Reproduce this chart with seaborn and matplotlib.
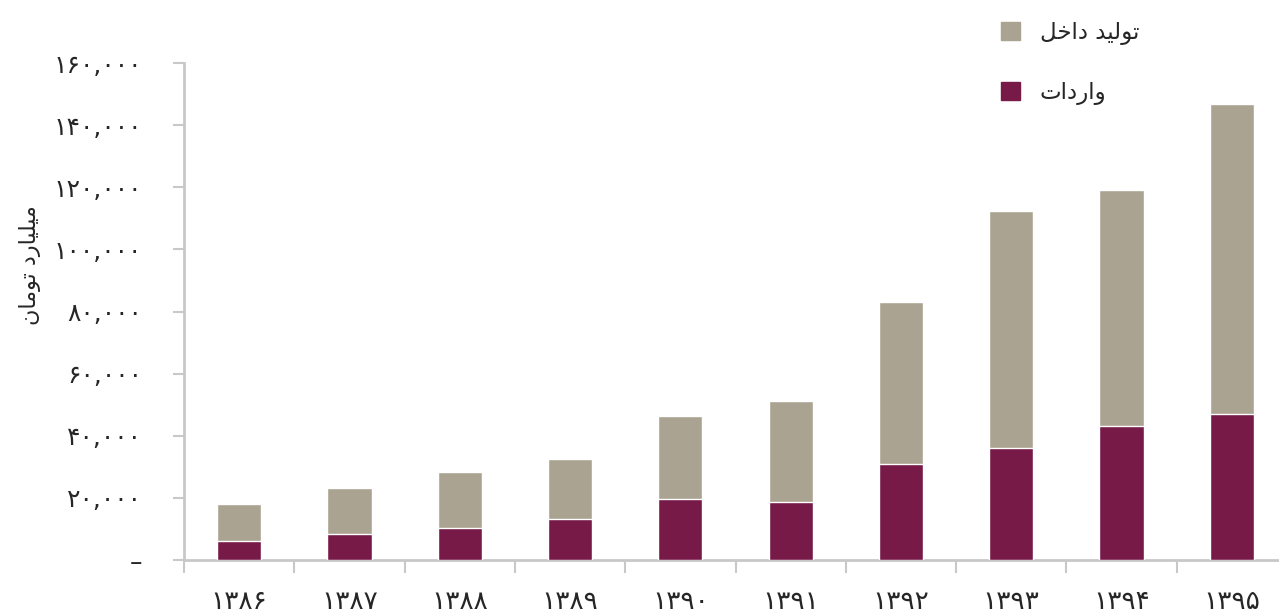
import matplotlib
matplotlib.use("Agg")
import matplotlib.pyplot as plt
import matplotlib.patches as mpatches
import seaborn as sns
import pandas as pd
import numpy as np

years = ["۱۳۸۶", "۱۳۸۷", "۱۳۸۸", "۱۳۸۹", "۱۳۹۰", "۱۳۹۱", "۱۳۹۲", "۱۳۹۳", "۱۳۹۴", "۱۳۹۵"]
imports = [6100, 8400, 10300, 13200, 19600, 18700, 30900, 36100, 43200, 47000]
domestic = [11900, 14800, 18000, 19300, 26800, 32500, 52200, 76300, 76000, 99900]
ytick_values = [0, 20000, 40000, 60000, 80000, 100000, 120000, 140000, 160000]
ytick_labels = ["–", "۲۰,۰۰۰", "۴۰,۰۰۰", "۶۰,۰۰۰", "۸۰,۰۰۰", "۱۰۰,۰۰۰",
                "۱۲۰,۰۰۰", "۱۴۰,۰۰۰", "۱۶۰,۰۰۰"]
# Persian labels (visual order, presentation forms)
lab_domestic = "ﻞﺧﺍﺩ ﺪﻴﻟﻮﺗ"   # تولید داخل
lab_imports = "ﺕﺍﺩﺭﺍﻭ"        # واردات
lab_y = "ﻥﺎﻣﻮﺗ ﺩﺭﺎﻴﻠﻴﻣ"      # میلیارد تومان

C_DOM = "#aba391"
C_IMP = "#771a48"
GRAY = "#c8c8c8"

sns.set_style("white")
plt.rcParams["font.family"] = ["DejaVu Sans"]

df = pd.DataFrame({"year": years,
                   "total": np.array(imports) + np.array(domestic),
                   "imports": imports})

fig = plt.figure(figsize=(12.79, 6.16), dpi=100)
ax = fig.add_axes([184 / 1279, 1 - 560 / 616, (1287 - 184) / 1279, (560 - 63) / 616])

sns.barplot(data=df, x="year", y="total", order=years, color=C_DOM,
            width=0.4, saturation=1, ax=ax, zorder=2)
sns.barplot(data=df, x="year", y="imports", order=years, color=C_IMP,
            width=0.4, saturation=1, ax=ax, zorder=3)

ax.set_xlim(-0.5, 9.5)
ax.set_ylim(0, 160000)
ax.set_xlabel("")
ax.set_ylabel("")

ax.set_yticks(ytick_values)
ax.set_yticklabels(ytick_labels, fontsize=18)
ax.tick_params(axis="y", length=8, width=1.5, color=GRAY, pad=22, left=True)

ax.set_xticks(range(len(years)))
ax.set_xticklabels(years, fontsize=19)
ax.set_xticks(np.arange(-0.5, 10, 1), minor=True)
ax.tick_params(axis="x", which="major", length=0, pad=21)
ax.tick_params(axis="x", which="minor", length=9, width=1.5, color=GRAY, bottom=True)

for s in ["top", "right"]:
    ax.spines[s].set_visible(False)
for s in ["left", "bottom"]:
    ax.spines[s].set_color(GRAY)
    ax.spines[s].set_linewidth(2)
ax.grid(False)

fig.text(30 / 1279, 1 - 265 / 616, lab_y, rotation=90, fontsize=16,
         ha="center", va="center")

handles = [mpatches.Patch(color=C_DOM, label=lab_domestic),
           mpatches.Patch(color=C_IMP, label=lab_imports)]
fig.legend(handles=handles, loc="upper left",
           bbox_to_anchor=(980 / 1279, 1 - 0 / 616), frameon=False,
           fontsize=16.5, handlelength=0.85, handleheight=0.85,
           labelspacing=1.6, handletextpad=0.85)

fig.savefig("out.png", dpi=100)
